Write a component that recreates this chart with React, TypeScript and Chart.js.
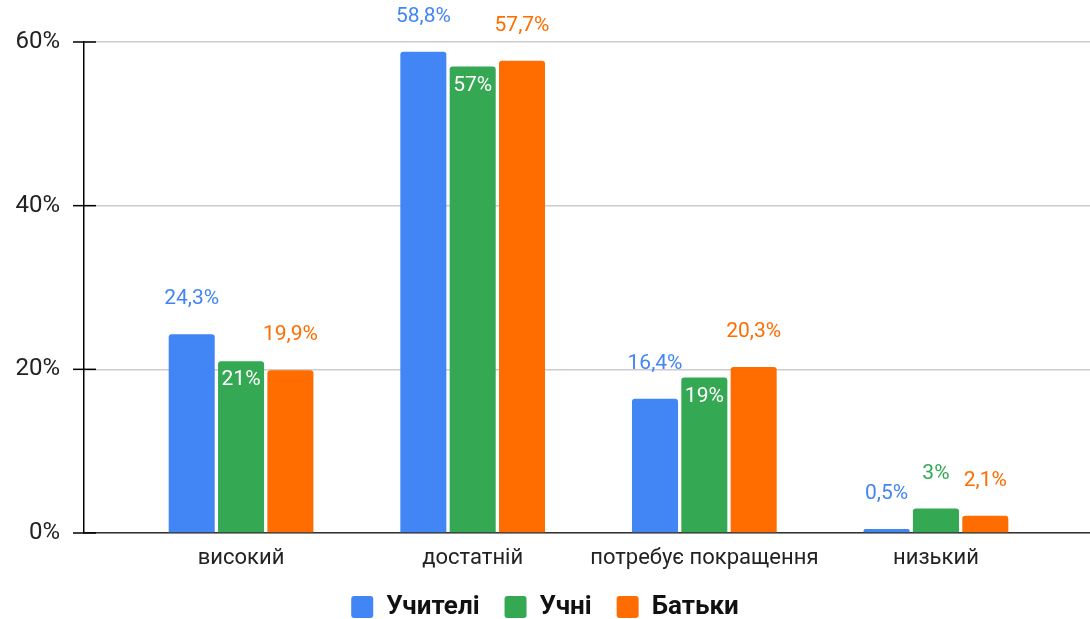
import React, { useEffect, useRef } from "react";
import { Chart, registerables } from "chart.js";

Chart.register(...registerables);

const categories = ["високий", "достатній", "потребує покращення", "низький"];
const seriesNames = ["Учителі", "Учні", "Батьки"];
const teachers = [24.3, 58.8, 16.4, 0.5];
const students = [21, 57, 19, 3];
const parents = [19.9, 57.7, 20.3, 2.1];
const yTicks = [0, 20, 40, 60];
const colors = ["#4285F4", "#34A853", "#FF6D01"];

const fmt = (v: number) => String(v).replace(".", ",") + "%";

export default function App() {
  const ref = useRef<HTMLCanvasElement | null>(null);
  useEffect(() => {
    if (!ref.current) return;
    const seriesValues = [teachers, students, parents];
    const labelPlugin = {
      id: "labels",
      afterDatasetsDraw(chart: any) {
        const ctx = chart.ctx;
        ctx.save();
        ctx.font = "21px Roboto";
        ctx.textAlign = "center";
        ctx.textBaseline = "middle";
        chart.data.datasets.forEach((ds: any, di: number) => {
          const meta = chart.getDatasetMeta(di);
          meta.data.forEach((bar: any, i: number) => {
            const v = seriesValues[di][i];
            const inside = di === 1 && v > 10;
            if (inside) {
              ctx.fillStyle = "#ffffff";
              ctx.fillText(fmt(v), bar.x, bar.y + 19);
            } else {
              ctx.fillStyle = colors[di];
              ctx.fillText(fmt(v), bar.x, bar.y - 35);
            }
          });
        });
        ctx.restore();
      },
      afterDraw(chart: any) {
        const ctx = chart.ctx;
        const y = chart.scales.y;
        const x0 = chart.chartArea.left;
        ctx.save();
        ctx.strokeStyle = "#000";
        ctx.lineWidth = 1.5;
        yTicks.forEach((t) => {
          const py = y.getPixelForValue(t);
          ctx.beginPath();
          ctx.moveTo(x0 - 11, py);
          ctx.lineTo(x0 + 12, py);
          ctx.stroke();
        });
        ctx.restore();
      },
    };
    const chart = new Chart(ref.current, {
      type: "bar",
      data: {
        datasets: seriesValues.map((vals, di) => ({
          label: seriesNames[di],
          data: vals.map((v, i) => ({ x: i, y: v })),
          backgroundColor: colors[di],
          borderColor: colors[di],
          borderWidth: 0,
          borderRadius: { topLeft: 3, topRight: 3, bottomLeft: 0, bottomRight: 0 },
          borderSkipped: false,
          barPercentage: 0.933,
          categoryPercentage: 0.639,
        })),
      },
      options: {
        animation: false,
        responsive: false,
        maintainAspectRatio: false,
        layout: { padding: { top: 42, right: 0, left: 0, bottom: -11 } },
        plugins: {
          tooltip: { enabled: false },
          title: { display: false },
          legend: {
            position: "bottom",
            labels: {
              boxWidth: 22,
              boxHeight: 22,
              useBorderRadius: true,
              borderRadius: 3,
              padding: 25,
              color: "#111",
              font: { family: "Roboto", size: 26, weight: "bold" },
            },
          },
        },
        scales: {
          x: {
            type: "linear",
            offset: false,
            min: -0.678,
            max: 3.665,
            afterBuildTicks: (s: any) => {
              s.ticks = categories.map((_, i) => ({ value: i }));
            },
            afterFit: (s: any) => {
              s.height = 36;
            },
            ticks: {
              callback: (v: any) => categories[v] ?? "",
              color: "#222",
              font: { family: "Roboto", size: 22 },
              padding: 12,
              maxRotation: 0,
              autoSkip: false,
            },
            grid: { display: false, drawTicks: false },
            border: { display: true, color: "#333", width: 1.5 },
          },
          y: {
            min: 0,
            max: 60,
            afterBuildTicks: (s: any) => {
              s.ticks = yTicks.map((v) => ({ value: v }));
            },
            afterFit: (s: any) => {
              s.width = 84;
            },
            ticks: {
              callback: (v: any) => v + "%",
              color: "#222",
              font: { family: "Roboto", size: 24 },
              padding: 24,
            },
            grid: { color: "#cccccc", lineWidth: 1.5, drawTicks: false },
            border: { display: true, color: "#000", width: 1.5 },
          },
        },
      },
      plugins: [labelPlugin],
    } as any);
    return () => chart.destroy();
  }, []);
  return (
    <div style={{ position: "absolute", left: 0, top: 0, width: 1090, height: 619, background: "#fff" }}>
      <canvas ref={ref} width={1090} height={619} style={{ width: 1090, height: 619 }} />
    </div>
  );
}
